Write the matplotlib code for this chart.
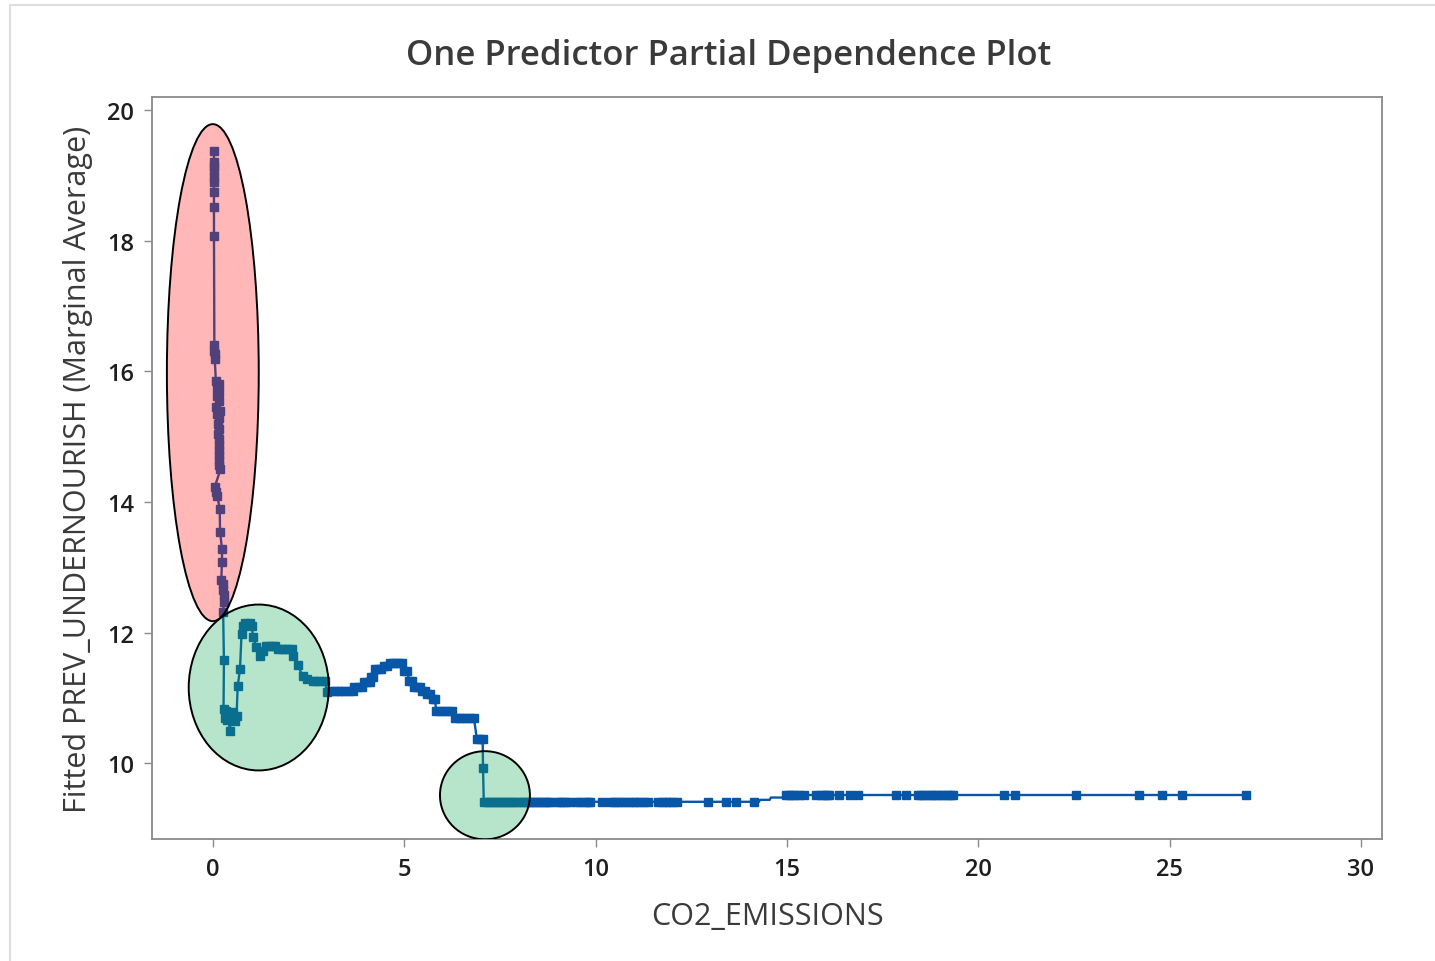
import numpy as np
import matplotlib.pyplot as plt
from matplotlib.patches import Ellipse, Rectangle

plt.rcParams['font.family'] = ['Open Sans', 'DejaVu Sans']

# pico perto de zero
spike_x = [0.03, 0.03, 0.03, 0.03, 0.03, 0.03, 0.03, 0.03, 0.03, 0.04, 0.03, 0.06, 0.05,
           0.08, 0.15, 0.10, 0.17, 0.12, 0.15, 0.08, 0.18, 0.12, 0.16, 0.14, 0.17, 0.14,
           0.16, 0.15, 0.17, 0.15, 0.16, 0.17, 0.20, 0.05, 0.09, 0.12, 0.18, 0.19, 0.24,
           0.24, 0.22, 0.27, 0.26, 0.28, 0.29, 0.27]
spike_y = [19.37, 19.20, 19.14, 19.08, 18.98, 18.90, 18.74, 18.51, 18.07, 16.40, 16.31, 16.27, 16.19,
           15.85, 15.80, 15.74, 15.68, 15.62, 15.55, 15.46, 15.40, 15.34, 15.28, 15.20, 15.12, 15.04,
           14.96, 14.88, 14.80, 14.72, 14.64, 14.56, 14.50, 14.23, 14.16, 14.09, 13.89, 13.54, 13.28,
           13.08, 12.80, 12.74, 12.66, 12.58, 12.47, 12.31]

# queda e recuperacao
dip_x = [0.29, 0.28, 0.31, 0.35, 0.38, 0.41, 0.44, 0.48, 0.53, 0.58, 0.62, 0.65, 0.71, 0.75,
         0.78, 0.84, 0.90, 0.96, 1.02, 1.05, 1.14, 1.23, 1.31, 1.40, 1.48, 1.56, 1.62, 1.70,
         1.80, 1.88, 1.96, 2.06, 2.09, 2.22, 2.35, 2.46, 2.61, 2.70, 2.80, 2.93, 2.98]
dip_y = [11.58, 10.83, 10.70, 10.80, 10.66, 10.75, 10.49, 10.68, 10.78, 10.65, 10.72, 11.18, 11.44, 11.98,
         12.10, 12.15, 12.13, 12.15, 12.10, 11.93, 11.78, 11.64, 11.72, 11.79, 11.79, 11.79, 11.79, 11.75,
         11.75, 11.75, 11.75, 11.75, 11.64, 11.50, 11.33, 11.29, 11.26, 11.26, 11.26, 11.26, 11.09]

# degraus entre 3 e 7
bump_x = [3.06, 3.16, 3.26, 3.36, 3.46, 3.56, 3.66, 3.70, 3.80, 3.89, 3.95, 4.03, 4.10, 4.14, 4.18,
          4.24, 4.32, 4.40, 4.47, 4.55, 4.62, 4.70, 4.78, 4.86, 4.94, 5.00, 5.08, 5.13, 5.20,
          5.26, 5.34, 5.41, 5.46, 5.54, 5.60, 5.68, 5.74, 5.80, 5.84, 5.94, 6.04, 6.14, 6.24,
          6.32, 6.42, 6.52, 6.62, 6.72, 6.82, 6.90, 6.98, 7.05, 7.06]
bump_y = [11.10, 11.10, 11.10, 11.10, 11.10, 11.10, 11.10, 11.16, 11.16, 11.16, 11.24, 11.24, 11.24, 11.32, 11.32,
          11.44, 11.44, 11.44, 11.49, 11.49, 11.53, 11.53, 11.53, 11.53, 11.53, 11.41, 11.41, 11.26, 11.26,
          11.16, 11.16, 11.16, 11.10, 11.10, 11.06, 11.06, 10.98, 10.98, 10.80, 10.80, 10.80, 10.80, 10.80,
          10.70, 10.70, 10.70, 10.70, 10.70, 10.70, 10.37, 10.37, 10.37, 9.92]

# patamar baixo
low_x = [7.08, 7.16, 7.24, 7.32, 7.40, 7.48, 7.56, 7.64, 7.72, 7.80, 7.88, 7.96, 8.04, 8.12, 8.20,
         8.28, 8.36, 8.44, 8.52, 8.60, 8.68, 8.76, 8.81, 8.99, 9.08, 9.16, 9.24, 9.33, 9.51, 9.59,
         9.72, 9.80, 9.85, 10.16, 10.37, 10.47, 10.57, 10.67, 10.77, 10.87, 10.97, 11.07, 11.17,
         11.27, 11.37, 11.63, 11.73, 11.83, 11.93, 12.03, 12.12, 12.93, 13.40, 13.67, 14.14]
low_y = [9.41] * len(low_x)

# transicao sem marcadores
ramp_x = [14.14, 14.27, 14.30, 14.55, 14.58, 14.90, 14.97]
ramp_y = [9.41, 9.41, 9.44, 9.44, 9.475, 9.475, 9.51]

# patamar alto
high_x = [14.97, 15.05, 15.13, 15.22, 15.31, 15.44, 15.76, 15.89, 15.97, 16.04, 16.10, 16.36, 16.65,
          16.85, 17.85, 18.11, 18.42, 18.50, 18.59, 18.68, 18.76, 18.84, 18.93, 19.02, 19.11, 19.20,
          19.28, 19.34, 20.67, 20.96, 22.55, 24.20, 24.80, 25.32, 26.99]
high_y = [9.51] * len(high_x)

co2 = spike_x + dip_x + bump_x + low_x
fitted = spike_y + dip_y + bump_y + low_y

x_ticks = [0, 5, 10, 15, 20, 25, 30]
y_ticks = [10, 12, 14, 16, 18, 20]

azul = '#0756A8'
texto = '#3A3A3A'

fig = plt.figure(figsize=(14.35, 9.62), dpi=100)
ax = fig.add_axes([0.1059, 0.1268, 0.8572, 0.7713])

ax.plot(co2, fitted, color=azul, lw=1.7, marker='s', ms=5.4, mec=azul, mfc=azul, zorder=3)
ax.plot(ramp_x, ramp_y, color=azul, lw=1.7, zorder=3)
ax.plot(high_x, high_y, color=azul, lw=1.7, marker='s', ms=5.4, mec=azul, mfc=azul, zorder=3)

# destaques
ax.add_patch(Ellipse((0.0, 15.98), 2.40, 7.61, facecolor=(1.0, 0.07, 0.07, 0.3),
                     edgecolor='black', lw=1.4, zorder=4))
ax.add_patch(Ellipse((1.20, 11.16), 3.66, 2.54, facecolor=(0.07, 0.67, 0.33, 0.3),
                     edgecolor='black', lw=1.4, zorder=4))
ax.add_patch(Ellipse((7.11, 9.51), 2.35, 1.35, facecolor=(0.07, 0.67, 0.33, 0.3),
                     edgecolor='black', lw=1.4, zorder=4))

ax.set_xlim(-1.59, 30.55)
ax.set_ylim(8.84, 20.2)
ax.set_xticks(x_ticks)
ax.set_yticks(y_ticks)
ax.tick_params(direction='out', length=6, width=1, color='#8A8A8A', labelsize=17,
               labelcolor='#1E1E1E', pad=7)
for lab in ax.get_xticklabels() + ax.get_yticklabels():
    lab.set_fontweight('semibold')
for s in ax.spines.values():
    s.set_color('#8A8A8A')
    s.set_linewidth(1.3)

ax.set_xlabel('CO2_EMISSIONS', fontsize=22, color=texto, labelpad=14)
ax.set_ylabel('Fitted PREV_UNDERNOURISH (Marginal Average)', fontsize=22, color=texto, labelpad=10)
fig.text(0.508, 0.942, 'One Predictor Partial Dependence Plot', ha='center', va='center',
         fontsize=25, color=texto, fontweight='semibold')

# moldura clara da janela
fig.patches.append(Rectangle((0.007, -0.1), 1.1, 1.094, transform=fig.transFigure,
                             fill=False, edgecolor='#DDDDDD', lw=1.5))

fig.savefig('out.png', dpi=100)
